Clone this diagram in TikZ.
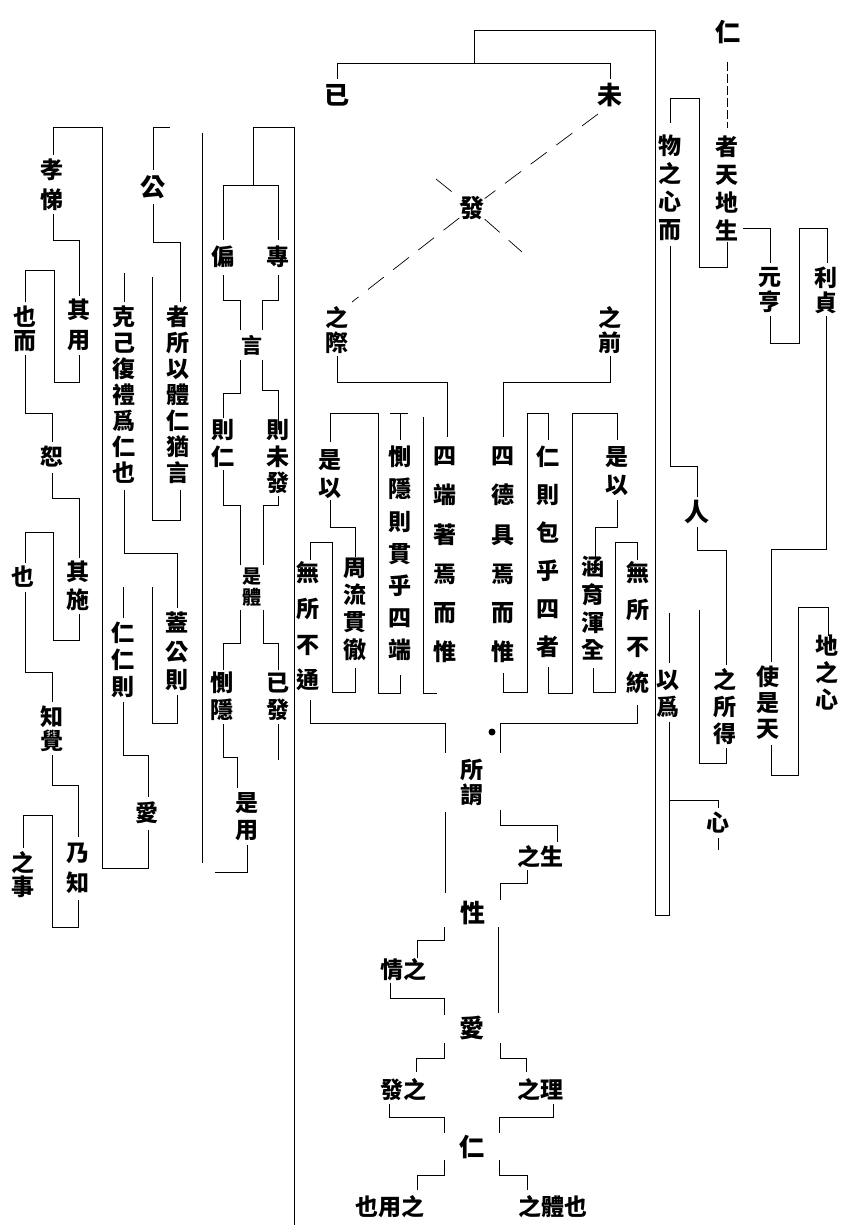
\documentclass[tikz,border=0pt]{standalone}
\usepackage{fontspec}
\newfontfamily\cjk{Noto Sans CJK TC}
\begin{document}
\begin{tikzpicture}[x=1pt,y=-1pt,
  vt/.style 2 args={font=\cjk\bfseries\fontsize{#1}{#2}\selectfont, align=center, inner sep=0pt},
  ht/.style={font=\cjk\bfseries\fontsize{23}{23}\selectfont, inner sep=0pt},
  ln/.style={line width=0.9pt, black},
  dl/.style={line width=0.7pt, black, dash pattern=on 20pt off 12pt}]
\useasboundingbox (0,0) rectangle (843,1225);
\fill[white] (0,0) rectangle (843,1225);

% ---------- text nodes ----------
\node[vt={25}{25}] (ren1) at (728,32) {仁};
\node[vt={23}{28}] (zhetian) at (727,188) {者\\天\\地\\生};
\node[vt={23}{28}] (wuzhi) at (670,188) {物\\之\\心\\而};
\node[vt={23}{25}] (yuanheng) at (770,290) {元\\亨};
\node[vt={23}{25}] (lizhen) at (826,290) {利\\貞};
\node[vt={25}{25}] (person) at (697,512) {人};
\node[vt={23}{27}] (zhisuode) at (725,707) {之\\所\\得};
\node[vt={23}{27}] (yiwei) at (668,694) {以\\爲};
\node[vt={23}{26}] (shishitian) at (768,703) {使\\是\\天};
\node[vt={23}{27}] (dizhixin) at (827,673) {地\\之\\心};
\node[vt={23}{23}] (xin) at (718,823) {心};

\node[vt={25}{25}] (yi) at (337,95) {已};
\node[vt={25}{25}] (wei) at (610,95) {未};
\node[vt={25}{25}] (fa) at (472,208) {發};
\node[vt={23}{25}] (zhiji) at (337,330) {之\\際};
\node[vt={23}{25}] (zhiqian) at (610,330) {之\\前};

\node[vt={23}{39.2}] (siduan) at (445,555) {四\\端\\著\\焉\\而\\惟};
\node[vt={23}{32.2}] (ceyin7) at (400,553.5) {惻\\隱\\則\\貫\\乎\\四\\端};
\node[vt={23}{28}] (shiyiL) at (330,474) {是\\以};
\node[vt={23}{27.3}] (zhouliu) at (355,609) {周\\流\\貫\\徹};
\node[vt={23}{35.7}] (wutong) at (308,626.5) {無\\所\\不\\通};
\node[vt={23}{39.2}] (side) at (503,555) {四\\德\\具\\焉\\而\\惟};
\node[vt={23}{38}] (renze) at (548,552) {仁\\則\\包\\乎\\四\\者};
\node[vt={23}{28}] (shiyiR) at (617,471) {是\\以};
\node[vt={23}{27.7}] (hanyu) at (593,608.5) {涵\\育\\渾\\全};
\node[vt={23}{36.7}] (wutong2) at (638,628) {無\\所\\不\\統};

\node[vt={23}{25}] (suowei) at (472,782) {所\\謂};
\node[ht] (zhisheng) at (540,857) {之生};
\node[vt={25}{25}] (xing) at (473,913) {性};
\node[ht] (qingzhi) at (403,970) {情之};
\node[vt={25}{25}] (ai) at (472,1028) {愛};
\node[ht] (fazhi) at (403,1090) {發之};
\node[ht] (zhili) at (540,1090) {之理};
\node[vt={25}{25}] (ren2) at (472,1147) {仁};
\node[ht] (yeyongzhi) at (390,1207) {也用之};
\node[ht] (zhitiye) at (553,1207) {之體也};

\node[vt={23}{23}] (pian) at (223,257) {偏};
\node[vt={23}{23}] (zhuan) at (278,257) {專};
\node[vt={21}{21}] (yan) at (252,345) {言};
\node[vt={23}{27}] (zeren) at (223,443.5) {則\\仁};
\node[vt={23}{26.5}] (zeweifa) at (278,456.5) {則\\未\\發};
\node[vt={19}{21}] (shiti) at (252,587) {是\\體};
\node[vt={23}{27}] (ceyin) at (222,696.5) {惻\\隱};
\node[vt={23}{27}] (yifa) at (278,696.5) {已\\發};
\node[vt={23}{27}] (shiyong) at (247,816.5) {是\\用};
\node[vt={25}{25}] (gong) at (153,187) {公};
\node[vt={23}{26}] (zhesuoyi) at (178,395) {者\\所\\以\\體\\仁\\猶\\言};
\node[vt={23}{26}] (keji) at (124,395) {克\\己\\復\\禮\\爲\\仁\\也};
\node[vt={23}{28.5}] (gaigong) at (177,651.5) {蓋\\公\\則};
\node[vt={23}{27}] (renren) at (123,660) {仁\\仁\\則};
\node[vt={23}{23}] (ai2) at (147,813) {愛};
\node[vt={23}{30}] (xiaoti) at (52,185) {孝\\悌};
\node[vt={23}{30}] (qiyong) at (79,325) {其\\用};
\node[vt={23}{24}] (yeer) at (25,328.5) {也\\而};
\node[vt={23}{23}] (shu) at (52,457) {恕};
\node[vt={23}{28}] (qishi) at (78,586) {其\\施};
\node[vt={23}{23}] (ye) at (23,577) {也};
\node[vt={23}{24}] (zhijue) at (52,728.5) {知\\覺};
\node[vt={23}{30}] (naizhi) at (78,868) {乃\\知};
\node[vt={23}{24}] (zhishi) at (23,875) {之\\事};

% ---------- top ----------
\draw[ln] (474.6,63.5) -- (474.6,30.5) -- (655,30.5) -- (655,915);
\draw[ln] (337,79) -- (337,63.5) -- (610,63.5) -- (610,79);
\draw[dl] (598,114) -- (fa);
\draw[dl] (fa) -- (352,302);
\draw[dl] (436,179) -- (fa);
\draw[dl] (fa) -- (522,252);

% ---------- top right ----------
\draw[ln, dash pattern=on 9pt off 3pt] (727,62) -- (727,128);
\draw[ln] (670,123) -- (670,98) -- (699,98) -- (699,267) -- (727,267) -- (727,242);
\draw[ln] (670,246) -- (670,466) -- (697,466) -- (697,497);
\draw[ln] (743,228) -- (770,228) -- (770,263);
\draw[ln] (770,316) -- (770,343) -- (799,343) -- (799,228) -- (827,228) -- (827,263);
\draw[ln] (826,316) -- (826,549) -- (771,549) -- (771,662);
\draw[ln] (771,745) -- (771,775) -- (798,775) -- (798,607) -- (828,607) -- (828,636);
\draw[ln] (697,527) -- (697,550) -- (726,550) -- (726,665);
\draw[ln] (726,748) -- (726,763) -- (699,763) -- (699,610);
\draw[ln] (669,613) -- (669,663);
\draw[ln] (669,722) -- (669,915) -- (655,915);
\draw[ln] (669,800) -- (718,800) -- (718,808);
\draw[ln] (718,838) -- (718,850);

% ---------- middle columns ----------
\draw[ln] (337,356) -- (337,382) -- (447,382) -- (447,437);
\draw[ln] (610,356) -- (610,382) -- (503,382) -- (503,437);
\draw[ln] (423,417) -- (423,693) -- (437,693);
\draw[ln] (390,413) -- (408,413);
\draw[ln] (400,413) -- (400,440);
\draw[ln] (400,675) -- (400,693) -- (378,693) -- (378,413) -- (330,413) -- (330,442);
\draw[ln] (330,500) -- (330,527) -- (355,527) -- (355,557);
\draw[ln] (355,668) -- (355,692) -- (332,692) -- (332,542) -- (310,542) -- (310,560);
\draw[ln] (310,700) -- (310,723) -- (445,723) -- (445,753);
\draw[ln] (503,673) -- (503,692) -- (527,692) -- (527,413) -- (548,413) -- (548,440);
\draw[ln] (548,667) -- (548,693) -- (572,693) -- (572,413) -- (617,413) -- (617,440);
\draw[ln] (617,500) -- (617,527) -- (595,527) -- (595,557);
\draw[ln] (593,668) -- (593,692) -- (615,692) -- (615,542) -- (637,542) -- (637,560);
\draw[ln] (637,705) -- (637,723) -- (500,723) -- (500,753);
\fill (492,732) circle (3.5pt);

% ---------- bottom centre ----------
\draw[ln] (445,812) -- (445,893);
\draw[ln] (500,810) -- (500,825) -- (557,825) -- (557,842);
\draw[ln] (527,870) -- (527,883) -- (500,883) -- (500,900);
\draw[ln] (444,927) -- (444,940) -- (417,940) -- (417,958);
\draw[ln] (390,983) -- (390,998) -- (444,998) -- (444,1015);
\draw[ln] (498,927) -- (498,1013);
\draw[ln] (444,1043) -- (444,1058) -- (416,1058) -- (416,1072);
\draw[ln] (500,1043) -- (500,1058) -- (526,1058) -- (526,1072);
\draw[ln] (389,1104) -- (389,1117) -- (444,1117) -- (444,1133);
\draw[ln] (553,1104) -- (553,1117) -- (499,1117) -- (499,1133);
\draw[ln] (444,1160) -- (444,1175) -- (417,1175) -- (417,1190);
\draw[ln] (499,1160) -- (499,1175) -- (527,1175) -- (527,1190);

% ---------- left: pian / zhuan ----------
\draw[ln] (294,127) -- (294,1225);
\draw[ln] (294,127) -- (253,127) -- (253,185);
\draw[ln] (223,240) -- (223,185) -- (278,185) -- (278,240);
\draw[ln] (223,275) -- (223,300) -- (240,300) -- (240,330);
\draw[ln] (278,275) -- (278,300) -- (262,300) -- (262,330);
\draw[ln] (240,360) -- (240,393) -- (223,393) -- (223,418);
\draw[ln] (262,360) -- (262,390) -- (278,390) -- (278,430);
\draw[ln] (223,470) -- (223,505) -- (240,505) -- (240,565);
\draw[ln] (278,496) -- (278,505) -- (263,505) -- (263,565);
\draw[ln] (240,610) -- (240,643) -- (223,643) -- (223,670);
\draw[ln] (263,610) -- (263,643) -- (278,643) -- (278,670);
\draw[ln] (223,724) -- (223,757) -- (237,757) -- (237,788);
\draw[ln] (278,724) -- (278,760);
\draw[ln] (247,845) -- (247,872) -- (215,872);
\draw[ln] (202,133) -- (202,863);

% ---------- left: gong ----------
\draw[ln] (148,830) -- (148,868) -- (102,868) -- (102,127) -- (53,127) -- (53,155);
\draw[ln] (170,127) -- (153,127) -- (153,170);
\draw[ln] (153,204) -- (153,242) -- (180,242) -- (180,302);
\draw[ln] (180,490) -- (180,520) -- (152,520) -- (152,277);
\draw[ln] (124,273) -- (124,302);
\draw[ln] (124,490) -- (124,553) -- (177,553) -- (177,608);
\draw[ln] (177,695) -- (177,723) -- (152,723) -- (152,587);
\draw[ln] (123,587) -- (123,618);
\draw[ln] (123,702) -- (123,755) -- (148,755) -- (148,797);

% ---------- left: xiaoti ----------
\draw[ln] (53,214) -- (53,240) -- (79,240) -- (79,296);
\draw[ln] (79,355) -- (79,382) -- (54,382) -- (54,270) -- (25,270) -- (25,302);
\draw[ln] (25,355) -- (25,413) -- (52,413) -- (52,442);
\draw[ln] (52,473) -- (52,498) -- (79,498) -- (79,558);
\draw[ln] (79,614) -- (79,640) -- (53,640) -- (53,532) -- (25,532) -- (25,563);
\draw[ln] (25,592) -- (25,672) -- (52,672) -- (52,702);
\draw[ln] (52,755) -- (52,785) -- (78,785) -- (78,837);
\draw[ln] (78,900) -- (78,927) -- (52,927) -- (52,815) -- (23,815) -- (23,848);
\end{tikzpicture}
\end{document}
